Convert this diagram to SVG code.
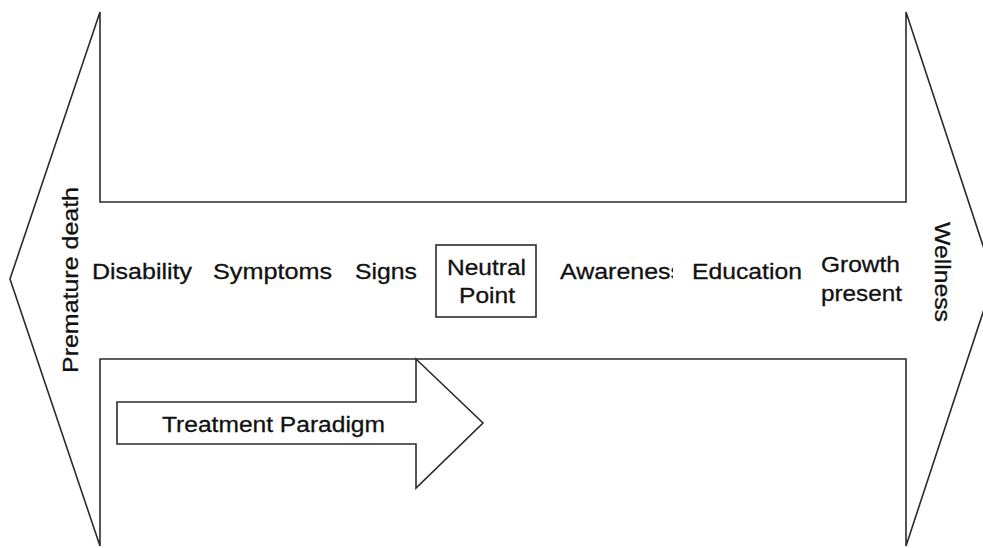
<svg xmlns="http://www.w3.org/2000/svg" width="983" height="548" viewBox="0 0 983 548">
<defs>
<style>
.ln{fill:#fff;stroke:#2b2b2b;stroke-width:1.6;stroke-linejoin:miter}
.t{font-family:"Liberation Sans",Arial,sans-serif;font-size:22px;fill:#111;stroke:#111;stroke-width:0.3}
</style>
<clipPath id="awclip"><rect x="550" y="240" width="123" height="60"/></clipPath>
</defs>
<rect width="983" height="548" fill="#fff"/>
<g id="continuum">
<polygon class="ln" points="100,12 100,202 906,202 906,12 994,279 906,546 906,359 100,359 100,546 10,279"/>
</g>
<g id="treatment-paradigm">
<polygon class="ln" points="117,402 416,402 416,359 483,423 416,488 416,444 117,444"/>
<text class="t" x="162" y="432" textLength="223" lengthAdjust="spacingAndGlyphs">Treatment Paradigm</text>
</g>
<g id="premature-death">
<text class="t" transform="translate(78,373) rotate(-90)" x="0" y="0" textLength="186" lengthAdjust="spacingAndGlyphs">Premature death</text>
</g>
<g id="wellness">
<text class="t" transform="translate(935,222) rotate(90)" x="0" y="0" textLength="100" lengthAdjust="spacingAndGlyphs">Wellness</text>
</g>
<g id="disability"><text class="t" x="92" y="279" textLength="100" lengthAdjust="spacingAndGlyphs">Disability</text></g>
<g id="symptoms"><text class="t" x="213" y="279" textLength="119" lengthAdjust="spacingAndGlyphs">Symptoms</text></g>
<g id="signs"><text class="t" x="355" y="279" textLength="62" lengthAdjust="spacingAndGlyphs">Signs</text></g>
<g id="neutral-point">
<rect class="ln" x="436" y="245" width="100" height="72"/>
<text class="t" x="447" y="275" textLength="79" lengthAdjust="spacingAndGlyphs">Neutral</text>
<text class="t" x="459" y="303" textLength="56" lengthAdjust="spacingAndGlyphs">Point</text>
</g>
<g id="awareness"><text class="t" x="560" y="279" textLength="123" lengthAdjust="spacingAndGlyphs" clip-path="url(#awclip)">Awareness</text></g>
<g id="education"><text class="t" x="692" y="279" textLength="110" lengthAdjust="spacingAndGlyphs">Education</text></g>
<g id="growth-present">
<text class="t" x="821" y="272" textLength="79" lengthAdjust="spacingAndGlyphs">Growth</text>
<text class="t" x="821" y="301" textLength="81" lengthAdjust="spacingAndGlyphs">present</text>
</g>
<g id="connectors"></g>
</svg>
